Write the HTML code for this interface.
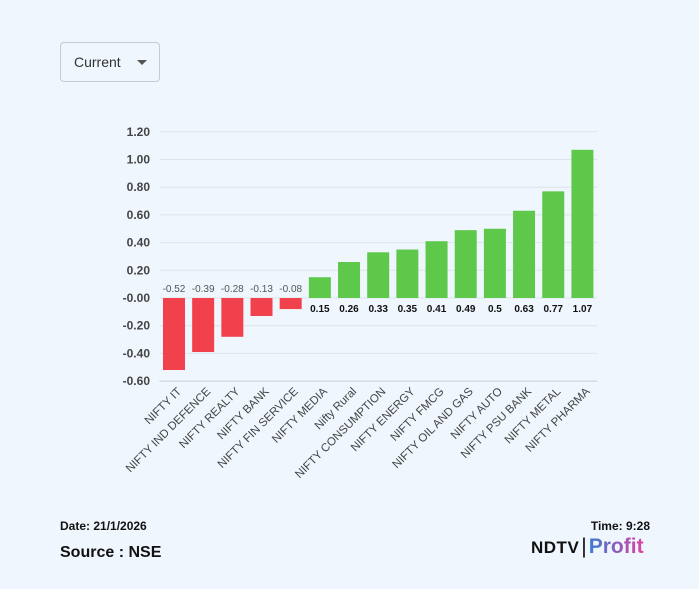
<!DOCTYPE html>
<html><head><meta charset="utf-8"><style>
body{margin:0;width:699px;height:589px;background:#eff6fd;font-family:"Liberation Sans",sans-serif;overflow:hidden;position:relative}
.dd{position:absolute;left:60px;top:42px;width:98px;height:38px;border:1px solid #c5cbd3;border-radius:4px;background:#eff6fd;font-size:14px;color:#333}
.dd span{position:absolute;left:13px;top:11px}
.dd i{position:absolute;left:76px;top:17px;border-left:5px solid transparent;border-right:5px solid transparent;border-top:5px solid #555}
.t{position:absolute;font-weight:bold;color:#111}
</style></head><body>
<div class="dd"><span>Current</span><i></i></div>
<svg id="c" width="699" height="589" style="position:absolute;left:0;top:0"></svg>
<div class="t" style="left:60px;top:519px;font-size:12px">Date: 21/1/2026</div>
<div class="t" style="left:60px;top:544px;font-size:16px">Source : NSE</div>
<div class="t" style="right:49px;top:519px;font-size:12px">Time: 9:28</div>
<div class="t" style="left:531px;top:535px;font-size:21px;white-space:nowrap"><span style="color:#111;font-size:17px;letter-spacing:0.5px">NDTV</span><span style="color:#111;font-weight:normal;margin:0 2px">|</span><span style="background:linear-gradient(90deg,#3a7bd5,#e040a0);-webkit-background-clip:text;color:transparent">Profit</span></div>
<script>
const categories=["NIFTY IT","NIFTY IND DEFENCE","NIFTY REALTY","NIFTY BANK","NIFTY FIN SERVICE","NIFTY MEDIA","Nifty Rural","NIFTY CONSUMPTION","NIFTY ENERGY","NIFTY FMCG","NIFTY OIL AND GAS","NIFTY AUTO","NIFTY PSU BANK","NIFTY METAL","NIFTY PHARMA"];
const values=[-0.52,-0.39,-0.28,-0.13,-0.08,0.15,0.26,0.33,0.35,0.41,0.49,0.5,0.63,0.77,1.07];
const ticks=[1.2,1.0,0.8,0.6,0.4,0.2,0,-0.2,-0.4,-0.6];
const tickLabels=["1.20","1.00","0.80","0.60","0.40","0.20","-0.00","-0.20","-0.40","-0.60"];
const ns="http://www.w3.org/2000/svg",svg=document.getElementById('c');
const x0=159.4,x1=597,y=v=>298-v*138.5,band=(x1-x0)/categories.length;
function el(t,a,p){const e=document.createElementNS(ns,t);for(const k in a)e.setAttribute(k,a[k]);(p||svg).appendChild(e);return e;}
ticks.forEach((t,i)=>{
const g=el('line',{x1:x0,x2:x1,y1:y(t),y2:y(t),stroke:'#dde4ec','stroke-width':1});


const l=el('text',{x:150,y:y(t)+4,'text-anchor':'end','font-size':12,'font-weight':'bold',fill:'#444'});l.textContent=tickLabels[i];


});
values.forEach((v,i)=>{
const cx=x0+band*(i+0.5),w=22;
const r=el('rect',{x:cx-w/2,y:Math.min(y(v),y(0)),width:w,height:Math.abs(y(v)-y(0)),fill:v<0?'#f0414d':'#5ec84a'});


const t=el('text',{x:cx,y:v<0?y(0)-6:y(0)+14,'text-anchor':'middle','font-size':10,'font-weight':v<0?'normal':'bold',fill:v<0?'#555':'#111'});t.textContent=String(v);


const c=el('text',{transform:`translate(${cx+8},${y(-0.6)+11}) rotate(-45)`,'text-anchor':'end','font-size':11.5,fill:'#444'});c.textContent=categories[i];


});
const ax=el('line',{x1:x0,x2:x1,y1:y(-0.6),y2:y(-0.6),stroke:'#ccd3da'});


</script>
</body></html>
